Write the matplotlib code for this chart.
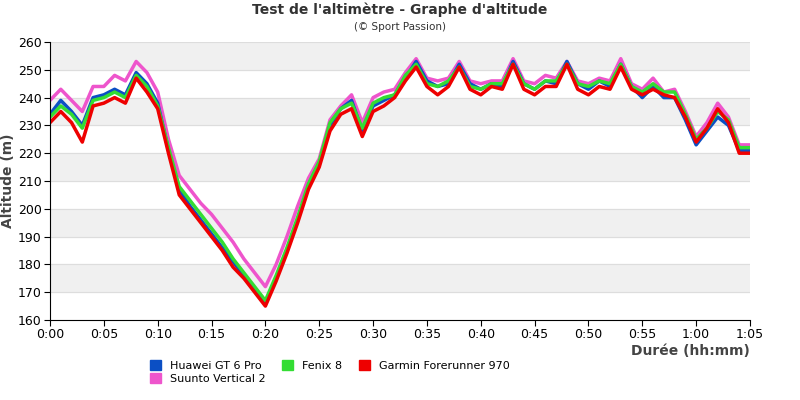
import numpy as np
import matplotlib.pyplot as plt
from matplotlib.patches import Patch

minutes = list(range(66))
huawei = [234, 239, 235, 230, 240, 241, 243, 241, 249, 245, 238, 221, 207, 201, 196, 191, 186, 181, 176, 171,
          166, 175, 185, 196, 208, 216, 230, 236, 239, 228, 237, 239, 241, 247, 253, 246, 244, 245, 252, 245,
          243, 245, 244, 253, 245, 243, 246, 245, 253, 245, 243, 246, 244, 252, 244, 240, 244, 240, 240, 232,
          223, 228, 233, 230, 221, 221]
fenix = [233, 237, 234, 229, 239, 240, 242, 240, 248, 244, 237, 222, 208, 203, 198, 193, 188, 182, 177, 172,
         167, 176, 186, 197, 209, 217, 231, 236, 238, 229, 238, 240, 241, 248, 252, 245, 244, 246, 251, 244,
         243, 245, 245, 252, 245, 243, 246, 246, 252, 245, 244, 246, 245, 252, 244, 242, 245, 242, 242, 234,
         225, 229, 235, 232, 222, 222]
garmin = [231, 235, 231, 224, 237, 238, 240, 238, 247, 242, 236, 220, 205, 200, 195, 190, 185, 179, 175, 170,
          165, 174, 184, 195, 207, 215, 228, 234, 236, 226, 235, 237, 240, 246, 251, 244, 241, 244, 251, 243,
          241, 244, 243, 252, 243, 241, 244, 244, 252, 243, 241, 244, 243, 251, 243, 241, 243, 241, 240, 233,
          224, 229, 236, 231, 220, 220]
suunto = [239, 243, 239, 235, 244, 244, 248, 246, 253, 249, 242, 225, 212, 207, 202, 198, 193, 188, 182, 177,
          172, 180, 190, 201, 211, 218, 232, 237, 241, 231, 240, 242, 243, 249, 254, 247, 246, 247, 253, 246,
          245, 246, 246, 254, 246, 245, 248, 247, 253, 246, 245, 247, 246, 254, 245, 243, 247, 242, 243, 235,
          226, 231, 238, 233, 223, 223]

series = [("Huawei GT 6 Pro", huawei, "#0b4fc4"), ("Fenix 8", fenix, "#33dd33"),
          ("Garmin Forerunner 970", garmin, "#ee0000"), ("Suunto Vertical 2", suunto, "#ee55cc")]

fig = plt.figure(figsize=(8, 4), dpi=100)
ax = fig.add_axes([0.0625, 0.2, 0.875, 0.695])
for lo in [170, 190, 210, 230, 250]:
    ax.axhspan(lo, lo + 10, color="#f0f0f0", zorder=0)
for y in range(160, 261, 10):
    ax.axhline(y, color="#dddddd", lw=0.8, zorder=0)
for name, vals, col in [series[3], series[0], series[1], series[2]]:
    ax.plot(minutes, vals, color=col, lw=2.5, label=name, zorder=2)
ax.set_xlim(0, 65)
ax.set_ylim(160, 260)
ticks = list(range(0, 66, 5))
ax.set_xticks(ticks)
ax.set_xticklabels(["%d:%02d" % (t // 60, t % 60) for t in ticks], fontsize=9)
ax.set_yticks(range(160, 261, 10))
ax.tick_params(labelsize=9, length=4, pad=2)
for s in ["top", "right"]:
    ax.spines[s].set_visible(False)
ax.set_ylabel("Altitude (m)", fontsize=10, fontweight="bold", color="#444444", labelpad=2)
ax.set_xlabel("Durée (hh:mm)", fontsize=10, fontweight="bold", color="#444444", loc="right", labelpad=2)
fig.text(0.5, 0.965, "Test de l'altimètre - Graphe d'altitude", ha="center", fontsize=10, fontweight="bold", color="#333333")
fig.text(0.5, 0.925, "(© Sport Passion)", ha="center", fontsize=7.5, color="#333333")
order = [0, 3, 1, 2]
handles = [Patch(color=series[i][2]) for i in order]
labels = [series[i][0] for i in order]
fig.legend(handles, labels, loc="upper left", bbox_to_anchor=(0.175, 0.125), ncol=3,
           frameon=False, fontsize=8, handlelength=1, handleheight=1, columnspacing=1.5, labelspacing=0.2)
fig.savefig("out.png")
